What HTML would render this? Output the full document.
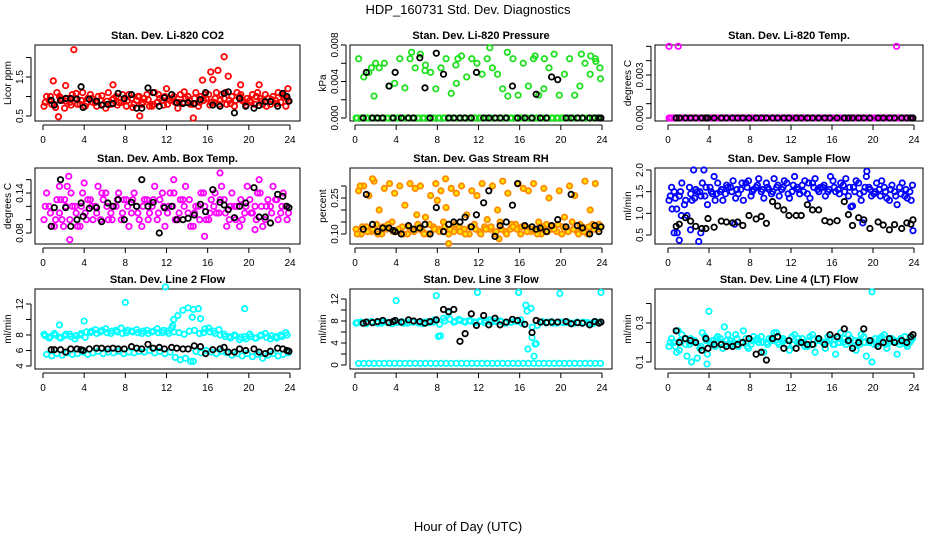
<!DOCTYPE html>
<html><head><meta charset="utf-8"><style>
html,body{margin:0;padding:0;background:#fff}
svg text{font-family:"Liberation Sans",sans-serif}
</style></head><body>
<svg id="c" width="936" height="540" viewBox="0 0 936 540" xmlns="http://www.w3.org/2000/svg">
<text x="468" y="14" text-anchor="middle" font-size="13">HDP_160731  Std. Dev. Diagnostics</text>
<text x="468" y="531" text-anchor="middle" font-size="13">Hour of Day (UTC)</text>
</svg>
<script>
const blackHours=[0.8,1.1,1.7,2.2,2.7,3.3,3.7,3.9,4.5,5.2,5.7,6.3,6.8,7.3,7.9,8.6,9.1,9.6,10.2,10.7,11.3,11.8,12.5,13.0,13.6,14.1,14.7,15.3,15.8,16.5,17.2,17.6,18.0,18.6,19.1,19.7,20.5,21.0,21.6,22.1,22.8,23.3,23.7,23.9];
const xTicks=[0,4,8,12,16,20,24];

const p1A=[0.75,0.9,0.8,1.0,0.7,0.85,0.95,0.8,0.75,1.05,0.85,0.9,0.7,0.8,1.0,0.85,0.75,0.95,0.9,0.8,1.05,0.75,0.85,0.9,0.8,0.95,0.7,0.85,1.0,0.8,0.75,0.9,1.05,0.85,0.8,0.95,0.9,0.75,1.0,0.85,0.9,0.8,0.95,1.05,0.8,0.9,0.85,0.75];
const p1B=[1.0,0.8,1.1,0.9,0.95,1.05,0.8,1.1,0.95,0.85,1.0,0.8,1.1,0.95,0.85,0.9,1.05,0.8,1.0,0.95,0.75,1.1,0.95,1.0,0.9,0.85,1.05,0.95,0.8,1.1,1.0,0.95,0.85,1.1,1.05,0.8,1.0,1.1,0.9,0.95,1.05,1.1,0.8,0.95,1.0,1.1,1.0,0.9];
const p1C=[0.85,1.0,0.72,0.95,0.88,0.78,1.08,0.9,0.82,0.95,0.75,1.02,0.88,0.92,0.78,1.05,0.9,0.72,1.0,0.85,0.92,0.8,1.05,0.78,0.95,1.0,0.85,1.12,0.9,0.95,0.85,1.05,0.78,0.95,0.9,1.1,0.82,0.9,1.05,0.78,0.85,1.0,0.88,0.75,0.92,0.82,1.05,0.95];
const p1ExX=[3.0,1.0,2.2,1.5,6.8,15.5,16.5,16.3,17.0,17.6,18.0,14.6,9.4,19.2,21.0,23.8,12.0];
const p1ExY=[2.2,1.4,1.28,0.48,1.3,1.42,1.43,1.63,1.67,2.02,1.52,0.45,0.5,1.3,1.3,1.2,1.2];
const p1K=[0.9,0.78,0.9,0.95,0.95,0.93,1.25,0.72,0.93,0.88,0.78,0.8,0.82,1.08,0.95,1.05,0.7,0.7,1.22,1.1,0.75,0.97,1.05,0.84,0.82,0.84,0.82,0.92,1.1,0.78,0.75,1.08,1.12,0.58,0.95,0.75,0.7,0.77,0.87,0.87,0.75,1.08,1.0,0.88];

const p2A=[0,0,0,0,0,0,0,0,0,0,0,0,0,0,0,0,0,0,0,0,0,0,0,0,0,0,0,0,0,0,0,0,0,0,0,0,0,0,0,0,0,0,0,0,0,0,0,0];
const p2B=[0.0065,0.0045,0.005,0.0024,0.0055,0.006,0.0035,0.0038,0.0065,0.0033,0.0065,0.0055,0.007,0.0058,0.005,0.0032,0.0055,0.0065,0.0027,0.0038,0.0068,0.0045,0.0065,0.006,0.0048,0.0065,0.0055,0.0048,0.0032,0.0024,0.0065,0.0025,0.006,0.0035,0.0065,0.0025,0.0032,0.0055,0.007,0.0025,0.0048,0.0065,0.0025,0.0035,0.006,0.0048,0.0065,0.0043];
const p2C=[0,0,0,0,0,0,0,0,0,0,0,0,0,0,0,0,0,0,0,0,0,0,0,0,0,0,0,0,0,0,0,0,0,0,0,0,0,0,0,0,0,0,0,0,0,0,0,0];
const p2ExX=[13.1,10.0,9.8,17.5,18.4,22.0,22.9,23.4,23.8,5.5,6.8,1.6,2.0,14.8];
const p2ExY=[0.0077,0.0065,0.0058,0.0068,0.0065,0.007,0.0068,0.0062,0.0055,0.0072,0.0052,0.0055,0.006,0.0072];
const p2K=[0,0.005,0,0,0,0.0035,0,0.005,0,0,0,0.0066,0.0033,0,0.0071,0.0048,0,0,0,0,0,0.005,0,0,0,0,0,0.0035,0,0,0,0.0026,0,0,0.0045,0.0042,0,0,0,0,0,0,0,0];

const p3A=[0,0,0,0,0,0,0,0,0,0,0,0,0,0,0,0,0,0,0,0,0,0,0,0,0,0,0,0,0,0,0,0,0,0,0,0,0,0,0,0,0,0,0,0,0,0,0,0];
const p3B=[0,0,0,0,0,0,0,0,0,0,0,0,0,0,0,0,0,0,0,0,0,0,0,0,0,0,0,0,0,0,0,0,0,0,0,0,0,0,0,0,0,0,0,0,0,0,0,0];
const p3C=[0,0,0,0,0,0,0,0,0,0,0,0,0,0,0,0,0,0,0,0,0,0,0,0,0,0,0,0,0,0,0,0,0,0,0,0,0,0,0,0,0,0,0,0,0,0,0,0];
const p3ExX=[0.1,1.0,22.3];
const p3ExY=[0.005,0.005,0.005];
const p3K=[0,0,0,0,0,0,0,0,0,0,0,0,0,0,0,0,0,0,0,0,0,0,0,0,0,0,0,0,0,0,0,0,0,0,0,0,0,0,0,0,0,0,0,0];

const p4A=[0.1,0.12,0.09,0.11,0.13,0.1,0.12,0.09,0.11,0.13,0.12,0.1,0.14,0.11,0.12,0.1,0.13,0.11,0.12,0.09,0.13,0.12,0.1,0.14,0.11,0.12,0.1,0.13,0.11,0.09,0.12,0.14,0.1,0.12,0.11,0.13,0.1,0.12,0.09,0.11,0.13,0.12,0.14,0.1,0.12,0.13,0.11,0.12];
const p4B=[0.14,0.09,0.13,0.1,0.15,0.12,0.09,0.14,0.13,0.1,0.15,0.13,0.1,0.12,0.14,0.13,0.09,0.14,0.1,0.13,0.11,0.15,0.13,0.09,0.14,0.1,0.13,0.15,0.09,0.12,0.14,0.1,0.13,0.11,0.15,0.09,0.14,0.12,0.1,0.15,0.11,0.14,0.09,0.13,0.15,0.1,0.14,0.11];
const p4C=[0.12,0.11,0.1,0.13,0.12,0.14,0.11,0.12,0.1,0.12,0.11,0.14,0.12,0.1,0.13,0.11,0.12,0.13,0.11,0.12,0.1,0.13,0.11,0.12,0.12,0.14,0.11,0.12,0.13,0.11,0.1,0.12,0.11,0.14,0.13,0.11,0.12,0.1,0.13,0.12,0.11,0.1,0.12,0.12,0.11,0.13,0.12,0.1];
const p4ExX=[2.5,1.6,2.0,17.2,15.7,2.6,4.0,20.6,21.0,12.7];
const p4ExY=[0.165,0.15,0.09,0.17,0.075,0.07,0.155,0.085,0.16,0.16];
const p4K=[0.09,0.118,0.16,0.118,0.09,0.1,0.125,0.105,0.117,0.118,0.097,0.125,0.12,0.13,0.1,0.126,0.12,0.16,0.12,0.126,0.08,0.118,0.12,0.1,0.1,0.102,0.107,0.123,0.112,0.145,0.126,0.122,0.115,0.103,0.12,0.125,0.148,0.104,0.104,0.095,0.138,0.135,0.12,0.118];

const p5A=[0.12,0.1,0.13,0.11,0.14,0.1,0.12,0.15,0.11,0.13,0.1,0.12,0.14,0.11,0.1,0.13,0.12,0.15,0.1,0.11,0.13,0.12,0.1,0.14,0.11,0.13,0.12,0.1,0.15,0.11,0.12,0.14,0.1,0.13,0.11,0.12,0.1,0.14,0.13,0.11,0.1,0.12,0.15,0.11,0.13,0.1,0.14,0.12];
const p5B=[0.28,0.3,0.26,0.32,0.2,0.29,0.31,0.27,0.3,0.22,0.31,0.29,0.3,0.17,0.26,0.31,0.28,0.21,0.29,0.27,0.3,0.18,0.28,0.26,0.31,0.16,0.3,0.2,0.32,0.27,0.13,0.31,0.29,0.28,0.31,0.15,0.29,0.25,0.12,0.28,0.17,0.3,0.26,0.14,0.32,0.2,0.31,0.13];
const p5C=[0.1,0.13,0.11,0.12,0.1,0.13,0.14,0.11,0.12,0.1,0.13,0.11,0.12,0.1,0.14,0.12,0.11,0.13,0.12,0.14,0.11,0.1,0.13,0.12,0.1,0.12,0.13,0.11,0.12,0.1,0.14,0.12,0.13,0.11,0.12,0.1,0.13,0.11,0.12,0.14,0.13,0.11,0.12,0.1,0.11,0.13,0.12,0.14];
const p5ExX=[1.7,0.5,9.1,8.8,14.0,8.0,6.0];
const p5ExY=[0.33,0.3,0.06,0.33,0.08,0.24,0.18];
const p5K=[0.12,0.265,0.14,0.11,0.125,0.125,0.115,0.11,0.1,0.135,0.12,0.125,0.14,0.1,0.21,0.11,0.14,0.15,0.15,0.17,0.13,0.18,0.23,0.28,0.09,0.135,0.15,0.22,0.31,0.135,0.13,0.12,0.125,0.11,0.135,0.16,0.13,0.265,0.135,0.125,0.1,0.135,0.11,0.13];

const p6A=[1.3,1.5,1.4,1.2,1.6,1.35,1.5,1.4,1.6,1.3,1.5,1.45,1.6,1.35,1.55,1.7,1.4,1.6,1.5,1.7,1.45,1.6,1.55,1.7,1.5,1.6,1.65,1.45,1.7,1.55,1.6,1.5,1.75,1.55,1.65,1.4,1.6,1.7,1.5,1.6,1.45,1.55,1.6,1.3,1.5,1.6,1.4,1.5];
const p6B=[1.6,1.1,1.7,0.95,1.3,1.5,1.7,1.2,1.45,1.7,1.3,1.6,1.75,1.45,1.3,1.75,1.55,1.8,1.35,1.55,1.8,1.4,1.75,1.35,1.85,1.45,1.75,1.35,1.8,1.6,1.4,1.85,1.5,1.7,1.8,1.15,1.75,1.3,1.85,1.4,1.7,1.75,1.35,1.65,1.2,1.7,1.35,1.65];
const p6C=[1.4,1.35,1.5,1.3,1.45,1.55,1.4,1.6,1.5,1.45,1.55,1.65,1.5,1.55,1.7,1.6,1.5,1.65,1.55,1.6,1.5,1.65,1.6,1.45,1.65,1.55,1.5,1.7,1.6,1.5,1.65,1.55,1.6,1.45,1.5,1.6,1.5,1.45,1.6,1.55,1.5,1.4,1.5,1.55,1.4,1.45,1.55,1.3];
const p6ExX=[0.6,0.9,1.1,1.3,2.2,2.5,3.0,3.2,3.5,4.5,6.5,18.0,19.4,19.0,0.4,23.9];
const p6ExY=[0.55,0.55,0.38,0.95,0.62,2.0,0.35,0.55,2.0,1.85,0.75,1.17,1.97,0.78,1.1,0.6];
const p6K=[0.7,0.75,0.9,0.82,0.7,0.65,0.65,0.88,0.68,0.82,0.8,0.78,0.8,0.72,0.95,0.87,0.93,0.77,1.27,1.17,1.08,0.95,0.95,0.95,1.2,1.08,1.08,0.83,0.8,0.83,1.27,0.97,0.72,0.9,0.85,0.65,0.8,0.73,0.62,0.74,0.65,0.78,0.75,0.85];

const p7A=[8.1,7.6,8.2,7.7,7.9,8.1,7.5,8.0,7.7,8.3,8.7,8.4,8.8,8.2,8.6,8.9,8.3,8.5,8.7,8.2,8.6,8.4,8.8,8.3,8.5,9.2,10.5,11.2,11.5,11.3,11.4,8.3,8.9,8.5,8.7,8.1,7.8,8.0,7.4,7.8,8.1,7.6,7.9,8.2,7.5,7.8,8.0,8.3];
const p7B=[5.5,5.3,5.6,5.4,5.7,5.5,5.6,5.8,5.5,5.7,5.9,5.6,5.8,5.7,5.9,5.6,5.8,5.7,5.9,5.8,6.0,5.7,5.9,5.6,5.8,5.1,4.8,5.0,4.6,5.9,5.7,6.0,5.8,5.6,5.9,5.7,5.4,5.6,5.3,5.6,5.2,5.5,5.0,5.4,5.6,5.3,5.5,5.7];
const p7C=[7.9,7.8,8.0,7.6,8.1,7.8,7.9,8.2,8.4,8.5,8.2,8.6,8.3,8.5,8.4,8.2,8.6,8.4,8.3,8.5,8.2,8.5,8.3,8.6,8.2,8.4,8.3,8.1,8.5,8.6,8.2,8.8,8.4,8.2,8.0,7.8,7.6,7.9,7.7,7.5,7.8,7.6,8.0,7.7,7.9,7.6,7.8,8.0];
const p7ExX=[8.0,11.9,4.0,1.6,14.5,19.6,15.3,14.6,12.7,12.5];
const p7ExY=[12.2,14.2,9.8,9.3,10.3,11.4,10.1,4.6,10.0,8.9];
const p7K=[6.1,6.1,6.1,5.8,6.2,6.2,6.1,6.0,6.2,6.3,6.3,6.2,6.3,6.2,6.2,6.5,6.3,6.2,6.8,6.3,6.4,6.2,6.4,6.3,6.2,6.2,6.6,6.5,5.6,6.1,6.2,6.4,5.8,5.8,6.2,6.0,6.2,5.8,5.6,5.9,6.3,6.2,6.0,5.9];

const p8A=[7.6,7.8,7.5,7.9,7.7,7.6,7.8,7.5,7.7,7.9,7.6,7.8,7.7,7.5,7.9,7.8,5.2,8.5,9.5,7.8,8.3,7.9,8.1,7.8,8.0,7.7,8.2,7.9,8.0,7.6,7.8,8.0,8.2,10.9,10.3,3.9,7.8,7.7,7.9,7.6,7.8,7.7,7.5,7.8,7.6,7.7,7.5,7.8];
const p8B=[0.3,0.3,0.3,0.3,0.3,0.3,0.3,0.3,0.3,0.3,0.3,0.3,0.3,0.3,0.3,0.3,0.3,0.3,0.3,0.3,0.3,0.3,0.3,0.3,0.3,0.3,0.3,0.3,0.3,0.3,0.3,0.3,0.3,0.3,0.3,0.3,0.3,0.3,0.3,0.3,0.3,0.3,0.3,0.3,0.3,0.3,0.3,0.3];
const p8C=[7.7,7.6,7.8,7.7,7.6,7.8,7.7,7.9,7.8,7.6,7.7,7.8,7.6,7.8,7.7,8.2,7.4,8.0,8.3,7.9,8.1,7.8,8.0,7.7,7.9,8.1,7.8,8.0,7.9,7.7,7.8,7.9,7.6,9.8,6.9,7.2,7.9,7.8,7.6,7.8,7.7,7.8,7.6,7.7,7.8,7.6,7.8,7.7];
const p8ExX=[4.0,7.9,11.9,15.9,19.9,23.9,17.4,17.2,16.8,17.5,8.3];
const p8ExY=[11.7,12.6,13.2,13.2,13.0,13.2,1.6,5.0,2.9,3.8,5.3];
const p8K=[7.6,7.8,7.7,7.9,8.1,7.7,7.9,8.1,7.8,8.2,8.0,7.9,7.6,7.9,8.2,10.1,9.7,10.1,4.3,5.7,9.3,7.2,9.0,7.3,8.5,7.3,7.8,8.3,8.1,7.4,5.9,8.1,7.8,7.7,7.8,7.8,7.9,7.5,7.7,7.6,7.3,7.9,7.6,7.8];

const p9A=[0.18,0.2,0.16,0.22,0.19,0.21,0.17,0.23,0.2,0.18,0.22,0.19,0.21,0.24,0.2,0.22,0.19,0.21,0.23,0.2,0.22,0.25,0.21,0.19,0.23,0.2,0.22,0.18,0.24,0.21,0.2,0.23,0.19,0.22,0.2,0.24,0.18,0.21,0.23,0.2,0.19,0.22,0.24,0.2,0.21,0.19,0.23,0.2];
const p9B=[0.22,0.15,0.24,0.13,0.2,0.12,0.25,0.14,0.21,0.23,0.17,0.24,0.2,0.18,0.26,0.17,0.23,0.2,0.15,0.22,0.25,0.19,0.21,0.16,0.24,0.2,0.18,0.23,0.15,0.21,0.17,0.22,0.14,0.25,0.19,0.22,0.16,0.24,0.13,0.21,0.19,0.23,0.17,0.22,0.14,0.2,0.18,0.22];
const p9C=[0.2,0.18,0.21,0.19,0.22,0.2,0.18,0.21,0.19,0.22,0.2,0.21,0.19,0.22,0.2,0.18,0.21,0.22,0.2,0.19,0.21,0.2,0.22,0.21,0.19,0.22,0.2,0.21,0.19,0.22,0.2,0.21,0.19,0.2,0.22,0.2,0.21,0.19,0.2,0.21,0.22,0.2,0.19,0.21,0.2,0.22,0.19,0.21];
const p9ExX=[4.0,19.9,2.3,3.8,19.9,1.0,5.5];
const p9ExY=[0.36,0.46,0.1,0.09,0.1,0.26,0.28];
const p9K=[0.26,0.2,0.22,0.21,0.2,0.16,0.22,0.17,0.19,0.19,0.18,0.18,0.19,0.2,0.22,0.14,0.15,0.11,0.22,0.23,0.17,0.21,0.17,0.2,0.19,0.19,0.22,0.19,0.24,0.23,0.27,0.21,0.17,0.2,0.27,0.21,0.18,0.2,0.22,0.2,0.21,0.2,0.23,0.24];

const NS="http://www.w3.org/2000/svg";
const svg=document.getElementById('c');
const cols=[{l:35,r:300,x0:43,x1:290},{l:350,r:612,x0:355,x1:602},{l:655,r:923,x0:668,x1:914}];
const rows=[{t:45,b:121},{t:168,b:244},{t:289,b:369}];
const panels=[
 {title:"Stan. Dev. Li-820 CO2",yl:"Licor ppm",c:0,r:0,v0:0.5,p0:116,v1:1.5,p1:77,ticks:[0.5,1.0,1.5,2.0],labels:[0.5,1.5],fmt:1,col:"#ff0000",fill:"none",A:p1A,B:p1B,C:p1C,EX:p1ExX,EY:p1ExY,K:p1K},
 {title:"Stan. Dev. Li-820 Pressure",yl:"kPa",c:1,r:0,v0:0,p0:118,v1:0.008,p1:45,ticks:[0,0.002,0.004,0.006,0.008],labels:[0,0.004,0.008],fmt:3,col:"#1ee01e",fill:"none",A:p2A,B:p2B,C:p2C,EX:p2ExX,EY:p2ExY,K:p2K},
 {title:"Stan. Dev. Li-820 Temp.",yl:"degrees C",c:2,r:0,v0:0,p0:118,v1:0.003,p1:75,ticks:[0,0.001,0.002,0.003,0.004,0.005],labels:[0,0.003],fmt:3,col:"#ff00ff",fill:"none",A:p3A,B:p3B,C:p3C,EX:p3ExX,EY:p3ExY,K:p3K},
 {title:"Stan. Dev. Amb. Box Temp.",yl:"degrees C",c:0,r:1,v0:0.08,p0:233,v1:0.14,p1:193,ticks:[0.08,0.10,0.12,0.14,0.16],labels:[0.08,0.14],fmt:2,col:"#ff00ff",fill:"none",A:p4A,B:p4B,C:p4C,EX:p4ExX,EY:p4ExY,K:p4K},
 {title:"Stan. Dev. Gas Stream RH",yl:"percent",c:1,r:1,v0:0.10,p0:234,v1:0.25,p1:198,ticks:[0.10,0.15,0.20,0.25,0.30],labels:[0.10,0.25],fmt:2,col:"#ff8a00",fill:"#ffe000",A:p5A,B:p5B,C:p5C,EX:p5ExX,EY:p5ExY,K:p5K},
 {title:"Stan. Dev. Sample Flow",yl:"ml/min",c:2,r:1,v0:0.5,p0:235,v1:2.0,p1:170,ticks:[0.5,1.0,1.5,2.0],labels:[0.5,1.0,1.5,2.0],fmt:1,col:"#0000ff",fill:"none",A:p6A,B:p6B,C:p6C,EX:p6ExX,EY:p6ExY,K:p6K},
 {title:"Stan. Dev. Line 2 Flow",yl:"ml/min",c:0,r:2,v0:4,p0:366,v1:12,p1:304,ticks:[4,6,8,10,12],labels:[4,6,8,12],fmt:0,col:"#00ffff",fill:"none",A:p7A,B:p7B,C:p7C,EX:p7ExX,EY:p7ExY,K:p7K},
 {title:"Stan. Dev. Line 3 Flow",yl:"ml/min",c:1,r:2,v0:0,p0:365,v1:12,p1:299,ticks:[0,2,4,6,8,10,12],labels:[0,4,8,12],fmt:0,col:"#00ffff",fill:"none",A:p8A,B:p8B,C:p8C,EX:p8ExX,EY:p8ExY,K:p8K},
 {title:"Stan. Dev. Line 4 (LT) Flow",yl:"ml/min",c:2,r:2,v0:0.1,p0:362,v1:0.3,p1:323,ticks:[0.1,0.2,0.3,0.4],labels:[0.1,0.3],fmt:1,col:"#00ffff",fill:"none",A:p9A,B:p9B,C:p9C,EX:p9ExX,EY:p9ExY,K:p9K}
];
function mk(tag,attrs,parent){const e=document.createElementNS(NS,tag);for(const k in attrs)e.setAttribute(k,attrs[k]);(parent||svg).appendChild(e);return e;}
panels.forEach((p,pi)=>{
 const C=cols[p.c],R=rows[p.r];
 const g=mk('g',{});
 
 
 const xs=h=>C.x0+(C.x1-C.x0)*h/24;
 const ys=v=>p.p0+(p.p1-p.p0)*(v-p.v0)/(p.v1-p.v0);
 const t=mk('text',{x:(C.l+C.r)/2,y:R.t-6,'text-anchor':'middle','font-size':11,'font-weight':'bold'},g);
 t.textContent=p.title;
 
 
 const box=mk('rect',{x:C.l,y:R.t,width:C.r-C.l,height:R.b-R.t,fill:'none',stroke:'#000','stroke-width':1},g);
 
 
 const xa=mk('g',{},g);
 
 
 mk('line',{x1:xs(0),x2:xs(24),y1:R.b+4,y2:R.b+4,stroke:'#000'},xa);
 xTicks.forEach(h=>{
  mk('line',{x1:xs(h),x2:xs(h),y1:R.b+4,y2:R.b+9,stroke:'#000'},xa);
  const tl=mk('text',{x:xs(h),y:R.b+22,'text-anchor':'middle','font-size':10},xa);
  tl.textContent=h;
  
  
 });
 const ya=mk('g',{},g);
 
 
 const tt=p.ticks;
 mk('line',{x1:C.l-4,x2:C.l-4,y1:ys(tt[0]),y2:ys(tt[tt.length-1]),stroke:'#000'},ya);
 tt.forEach(v=>mk('line',{x1:C.l-9,x2:C.l-4,y1:ys(v),y2:ys(v),stroke:'#000'},ya));
 p.labels.forEach(v=>{
  const y=ys(v);
  const tl=mk('text',{x:C.l-12,y:y,'text-anchor':'middle','font-size':10,transform:`rotate(-90 ${C.l-12} ${y})`},ya);
  tl.textContent=v.toFixed(p.fmt);
  
  
 });
 const ylab=mk('text',{x:C.l-24,y:(R.t+R.b)/2,'text-anchor':'middle','font-size':10,transform:`rotate(-90 ${C.l-24} ${(R.t+R.b)/2})`},g);
 ylab.textContent=p.yl;
 
 
 const pts=mk('g',{},g);
 
 
 const dot=(h,v,col,fill)=>{
  const e=mk('circle',{cx:xs(h),cy:ys(v),r:2.7,fill:fill,stroke:col,'stroke-width':1.8},pts);
  
  
 };
 p.A.forEach((v,i)=>dot(i*0.5+0.1,v,p.col,p.fill));
 p.C.forEach((v,i)=>dot(i*0.5+0.22,v,p.col,p.fill));
 p.B.forEach((v,i)=>dot(i*0.5+0.35,v,p.col,p.fill));
 p.EX.forEach((h,i)=>{if(i<p.EY.length)dot(h,p.EY[i],p.col,p.fill);});
 p.K.forEach((v,i)=>{if(i<blackHours.length)dot(blackHours[i],v,'#000','none');});
});
</script>
</body></html>
